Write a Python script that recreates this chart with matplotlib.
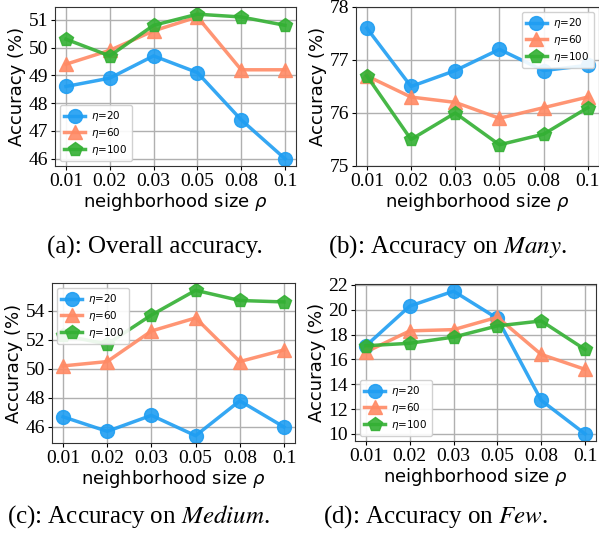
import matplotlib
matplotlib.use("Agg")
import matplotlib.pyplot as plt
from matplotlib.ticker import MultipleLocator

# x categories (neighborhood size rho)
rho_labels = ["0.01", "0.02", "0.03", "0.05", "0.08", "0.1"]
etas = ["$\\eta$=20", "$\\eta$=60", "$\\eta$=100"]

# (a) overall accuracy
overall_20 = [48.6, 48.9, 49.7, 49.1, 47.4, 46.0]
overall_60 = [49.4, 49.9, 50.6, 51.1, 49.2, 49.2]
overall_100 = [50.3, 49.7, 50.8, 51.2, 51.1, 50.8]

# (b) many
many_20 = [77.6, 76.5, 76.8, 77.2, 76.8, 76.9]
many_60 = [76.7, 76.3, 76.2, 75.9, 76.1, 76.3]
many_100 = [76.7, 75.5, 76.0, 75.4, 75.6, 76.1]

# (c) medium
medium_20 = [46.7, 45.7, 46.8, 45.4, 47.8, 46.0]
medium_60 = [50.2, 50.5, 52.6, 53.5, 50.5, 51.3]
medium_100 = [52.3, 51.7, 53.7, 55.4, 54.7, 54.6]

# (d) few
few_20 = [17.1, 20.3, 21.5, 19.3, 12.7, 10.0]
few_60 = [16.6, 18.3, 18.4, 19.4, 16.4, 15.2]
few_100 = [17.1, 17.3, 17.8, 18.7, 19.1, 16.8]

colors = ["#1f9ef2", "#ff8a65", "#33b033"]
markers = ["o", "^", "p"]

fig = plt.figure(figsize=(5.99, 5.44), dpi=100)

panels = [
    ([0.0918, 0.6949, 0.4023, 0.2923], [overall_20, overall_60, overall_100], "lower left", None, 1),
    ([0.594, 0.6949, 0.4057, 0.2923], [many_20, many_60, many_100], "upper right", (75, 78), 1),
    ([0.0868, 0.1857, 0.4057, 0.294], [medium_20, medium_60, medium_100], "upper left", None, 2),
    ([0.5927, 0.1893, 0.4023, 0.2886], [few_20, few_60, few_100], "lower left", None, 2),
]

x = list(range(len(rho_labels)))
for pos, series, loc, ylim, step in panels:
    ax = fig.add_axes(pos)
    for vals, c, m, lab in zip(series, colors, markers, etas):
        ax.plot(x, vals, color=c, marker=m, markersize=10, linewidth=2.5,
                label=lab, alpha=0.9)
    ax.set_xticks(x)
    ax.set_xticklabels(rho_labels)
    ax.yaxis.set_major_locator(MultipleLocator(step))
    ax.yaxis.set_major_formatter(lambda v, p: f"{v:.0f}")
    if ylim:
        ax.set_ylim(*ylim)
    ax.grid(True, color="#b0b0b0", linewidth=1)
    ax.set_axisbelow(True)
    ax.tick_params(length=3, pad=2, labelfontfamily="Liberation Serif", labelsize=14)
    ax.set_xlabel("neighborhood size $\\rho$", fontsize=13, labelpad=1)
    ax.set_ylabel("Accuracy (%)", fontsize=13, labelpad=2)
    for s in ax.spines.values():
        s.set_color("#333333")
    ax.legend(loc=loc, fontsize=7.5, handlelength=2.0, borderpad=0.4,
              labelspacing=0.25, handletextpad=0.6, framealpha=0.9)

cap = dict(family="Liberation Serif", fontsize=18, ha="center", va="center",
           math_fontfamily="stix")
fig.text(155 / 599, 1 - 247 / 544, "(a): Overall accuracy.", **cap)
fig.text(448 / 599, 1 - 247 / 544, "(b): Accuracy on $\\mathit{Many}$.", **cap)
fig.text(138 / 599, 1 - 517 / 544, "(c): Accuracy on $\\mathit{Medium}$.", **cap)
fig.text(436 / 599, 1 - 517 / 544, "(d): Accuracy on $\\mathit{Few}$.", **cap)

fig.savefig("out.png", dpi=100)
